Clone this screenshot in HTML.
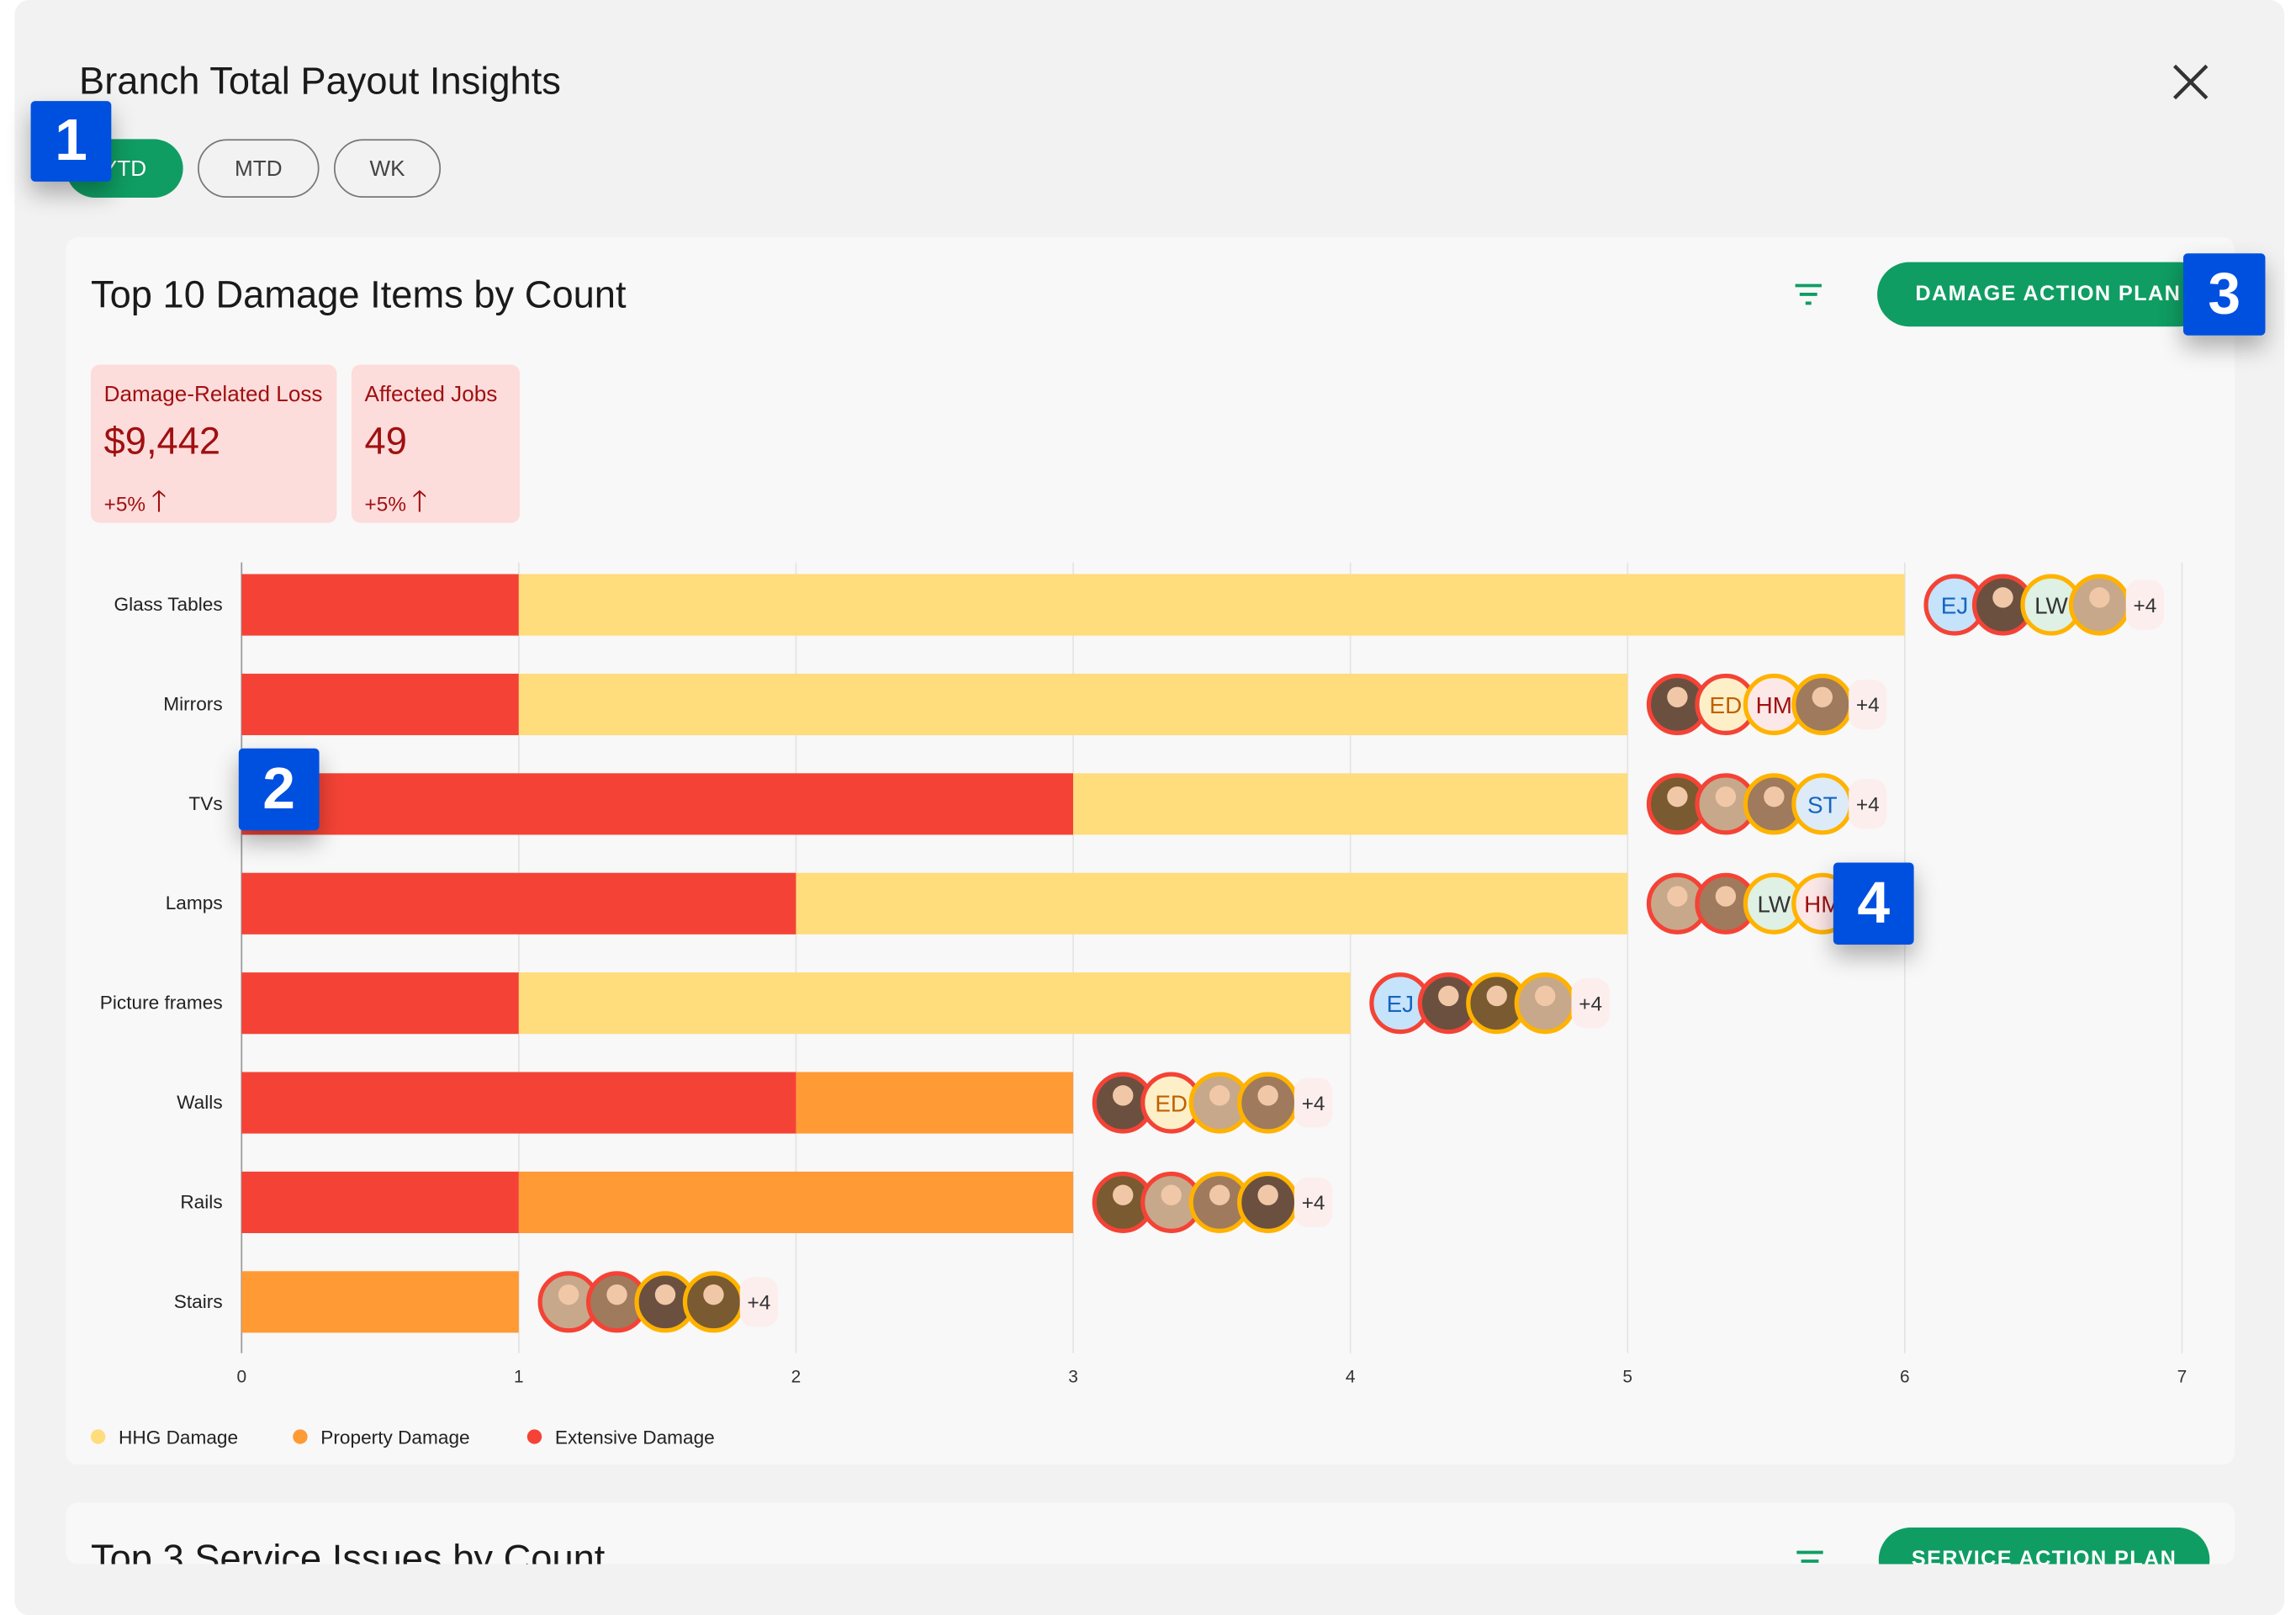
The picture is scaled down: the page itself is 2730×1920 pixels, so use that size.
<!DOCTYPE html>
<html><head><meta charset="utf-8">
<style>
html,body{margin:0;padding:0;background:#fff;width:2730px;height:1920px;overflow:hidden;font-family:"Liberation Sans",sans-serif;}
#root{position:absolute;left:0;top:0;width:1568px;height:1103px;transform:scale(1.7411);transform-origin:0 0;}
.abs{position:absolute;}
#panel{left:10px;top:0;width:1550px;height:1103px;background:#f2f2f2;border-radius:10px;overflow:hidden;}
.pill{position:absolute;top:95px;height:40px;border-radius:20px;box-sizing:border-box;border:1.5px solid #777;color:#444;font-size:15px;display:flex;align-items:center;justify-content:center;}
.badge{position:absolute;background:#0050e0;color:#fff;font-size:40px;font-weight:bold;display:flex;align-items:center;justify-content:center;border-radius:3px;box-shadow:0 8px 16px rgba(0,0,0,.3);z-index:5;}
.card{position:absolute;left:45px;width:1481px;background:#f8f8f8;border-radius:8px;}
.ctitle{position:absolute;left:17px;font-size:26px;color:#1a1a1a;}
.btn{position:absolute;background:#0f9d63;color:#fff;font-size:14.5px;font-weight:bold;letter-spacing:0.8px;border-radius:22px;display:flex;align-items:center;justify-content:center;}
.kpi{position:absolute;top:249px;height:108px;background:#fddcdc;border-radius:6px;color:#a01010;}
.kpi .l{position:absolute;left:9px;top:12px;font-size:15px;}
.kpi .v{position:absolute;left:9px;top:37px;font-size:26px;}
.kpi .p{position:absolute;left:9px;top:79px;font-size:14px;}
</style></head><body>
<div id="root">
<div id="panel" class="abs">
  <div class="abs" style="left:44px;top:40px;font-size:26px;color:#1a1a1a">Branch Total Payout Insights</div>
  <svg class="abs" style="left:1473px;top:43px" width="26" height="26"><path d="M2 2L24 24M24 2L2 24" stroke="#333" stroke-width="2.5"/></svg>
  <div class="pill" style="left:35px;width:80px;background:#0f9d63;border:none;color:#fff">YTD</div>
  <div class="pill" style="left:125px;width:83px">MTD</div>
  <div class="pill" style="left:218px;width:73px">WK</div>
</div>
<div class="badge" style="left:21px;top:69px;width:55px;height:55px">1</div>

<div class="card" style="top:162px;height:838px">
  <div class="ctitle" style="top:24px">Top 10 Damage Items by Count</div>
  <svg class="abs" style="left:1180px;top:31px" width="20" height="16"><path d="M1 2H19M4 8H16M8 14H12" stroke="#0f9d63" stroke-width="2.2"/></svg>
  <div class="btn" style="left:1237px;top:17px;width:228px;height:44px;justify-content:flex-start;padding-left:26px;box-sizing:border-box">DAMAGE ACTION PLAN</div>
  <div class="kpi" style="left:17px;width:168px;top:87px"><div class="l">Damage-Related Loss</div><div class="v">$9,442</div><div class="p">+5% <span style="font-size:20px">🡑</span></div></div>
  <div class="kpi" style="left:195px;width:115px;top:87px"><div class="l">Affected Jobs</div><div class="v">49</div><div class="p">+5% <span style="font-size:20px">🡑</span></div></div>
</div>
<div class="badge" style="left:1491px;top:173px;width:56px;height:56px">3</div>

<svg id="chart" class="abs" style="left:0;top:0" width="1568" height="1103"></svg>

<div class="card" style="top:1026px;height:42px;overflow:hidden">
  <div class="ctitle" style="top:23px">Top 3 Service Issues by Count</div>
  <svg class="abs" style="left:1181px;top:32px" width="20" height="16"><path d="M1 2H19M4 8H16M8 14H12" stroke="#0f9d63" stroke-width="2.2"/></svg>
  <div class="btn" style="left:1238px;top:17px;width:226px;height:44px">SERVICE ACTION PLAN</div>
</div>
<div class="badge" style="left:163px;top:511px;width:55px;height:56px">2</div>
<div class="badge" style="left:1252px;top:589px;width:55px;height:56px">4</div>
</div>
<script>
const categories=["Glass Tables","Mirrors","TVs","Lamps","Picture frames","Walls","Rails","Stairs"];
const extensive=[1,1,3,2,1,2,1,0];
const property=[0,0,0,0,0,1,2,1];
const hhg=[5,4,2,3,3,0,0,0];
const ticks=[0,1,2,3,4,5,6,7];
const legendLabels=["HHG Damage","Property Damage","Extensive Damage"];
const avatars=[
 ["EJ:r","P:r","LW:a","P:a"],["P:r","ED:r","HM:a","P:a"],["P:r","P:r","P:a","ST:a"],["P:r","P:r","LW:a","HM:a"],
 ["EJ:r","P:r","P:a","P:a"],["P:r","ED:r","P:a","P:a"],["P:r","P:r","P:a","P:a"],["P:r","P:r","P:a","P:a"]];
const NS="http://www.w3.org/2000/svg";
const svg=document.getElementById('chart');
const x0=165,unit=189.3,top0=384,rowH=68;
const xs=v=>x0+v*unit;
const yc=i=>413+i*rowH;
function el(t,a,p){const e=document.createElementNS(NS,t);for(const k in a)e.setAttribute(k,a[k]);(p||svg).appendChild(e);return e;}
const COL={h:"#ffdc7c",p:"#ff9a35",e:"#f44336"};
ticks.forEach(t=>{
 const g=el('line',{x1:xs(t),x2:xs(t),y1:top0,y2:924,stroke:t==0?'#999':'#e4e4e4','stroke-width':1});
 
 const tx=el('text',{x:xs(t),y:944,'font-size':12,'text-anchor':'middle',fill:'#333'});tx.textContent=t;
 
});
const avBg={EJ:["#c5e3fb","#1565c0"],LW:["#dff0e4","#333"],ED:["#fdf0c8","#c06000"],HM:["#fde8e8","#a01010"],ST:["#dcebf7","#1565c0"]};
const photoCols=["#a07a5c","#6b5040","#7a5a30","#c8a88a"];
categories.forEach((c,i)=>{
 const y=yc(i);
 const lb=el('text',{x:152,y:y+4,'font-size':13,'text-anchor':'end',fill:'#222'});lb.textContent=c;
 
 let s=0;
 [[extensive[i],'e'],[property[i],'p'],[hhg[i],'h']].forEach(([v,k])=>{
  if(v>0){const r=el('rect',{x:xs(s),y:y-21,width:xs(s+v)-xs(s),height:42,fill:COL[k]});
   }
  s+=v;});
 const ax=xs(s)+34;
 avatars[i].forEach((a,j)=>{
  const [t,ring]=a.split(':');const cx=ax+j*33;
  const g=el('g',{});
  const fill=t=='P'?photoCols[(i+j)%4]:avBg[t][0];
  el('circle',{cx,cy:y,r:19.5,fill,stroke:ring=='r'?'#f44336':'#ffb300','stroke-width':3},g);
  if(t!='P'){const tt=el('text',{x:cx,y:y+6,'font-size':16,'text-anchor':'middle',fill:avBg[t][1]},g);tt.textContent=t;}
  else{el('circle',{cx,cy:y-5,r:7,fill:'#f0c8a8'},g);}
 });
 const px=ax+4*33-6;
 const m=el('rect',{x:px-9,y:y-17,width:26,height:34,rx:9,fill:'#fdeeee'});
 
 const mt=el('text',{x:px+4,y:y+5,'font-size':14,'text-anchor':'middle',fill:'#333'});mt.textContent='+4';
});
const lx=[67,205,365],lc=[COL.h,COL.p,COL.e];
legendLabels.forEach((l,i)=>{
 const d=el('circle',{cx:lx[i],cy:981,r:5,fill:lc[i]});
 const t=el('text',{x:lx[i]+14,y:986,'font-size':13,fill:'#222'});t.textContent=l;
 
});
</script>
</body></html>
